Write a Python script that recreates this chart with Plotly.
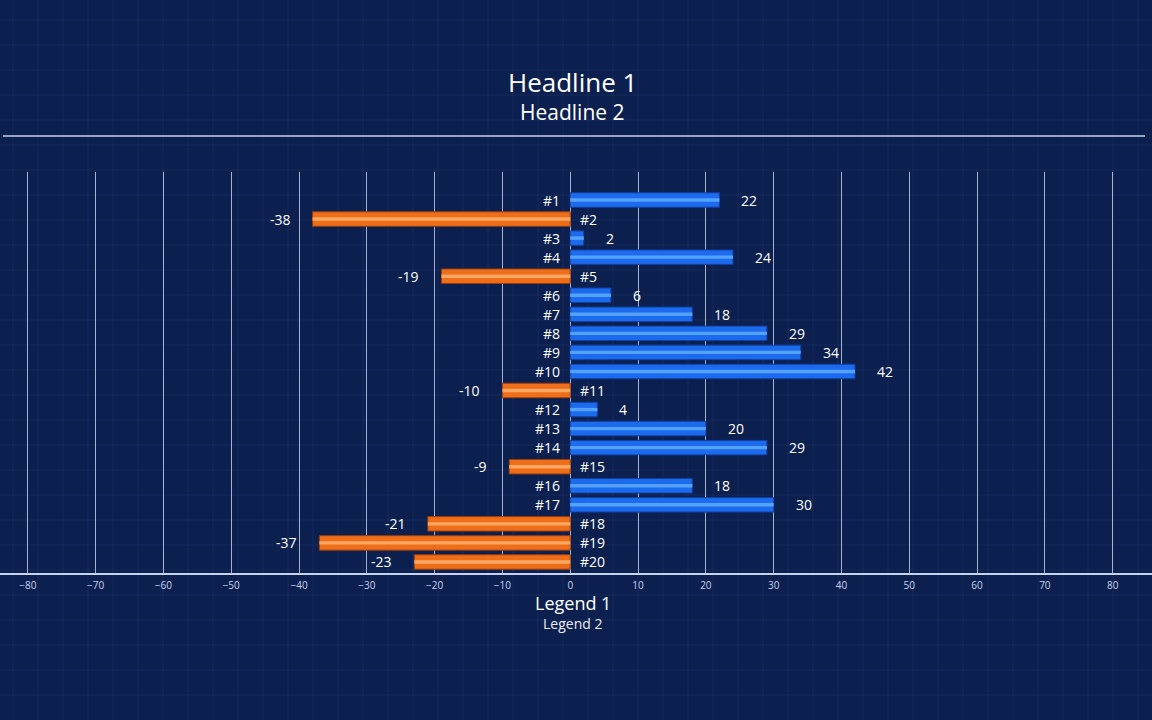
import plotly.graph_objects as go

categories = [f"#{i}" for i in range(1, 21)]
values = [22, -38, 2, 24, -19, 6, 18, 29, 34, 42, -10, 4, 20, 29, -9, 18, 30, -21, -37, -23]
tick_vals = list(range(-80, 90, 10))
title1 = "Headline 1"
title2 = "Headline 2"
legend1 = "Legend 1"
legend2 = "Legend 2"

BG = "#0c2050"
FONT = "Open Sans"
pos = list(range(1, len(categories) + 1))

main_colors = ["#1c6aee" if v >= 0 else "#ee6e1a" for v in values]
edge_colors = ["#123f9c" if v >= 0 else "#9a3c0c" for v in values]
hi_colors = ["#5aaaff" if v >= 0 else "#f9ad6a" for v in values]

fig = go.Figure()
fig.add_trace(go.Bar(
    x=values, y=pos, orientation="h", width=0.76,
    marker=dict(color=main_colors, line=dict(color=edge_colors, width=1)),
    hoverinfo="skip", showlegend=False))
fig.add_trace(go.Bar(
    x=values, y=pos, orientation="h", width=0.18,
    marker=dict(color=hi_colors, line=dict(width=0), opacity=0.9),
    hoverinfo="skip", showlegend=False))

annotations = []
for c, v, p in zip(categories, values, pos):
    if v >= 0:
        annotations.append(dict(x=0, y=p, text=c, xanchor="right", xshift=-8, showarrow=False,
                                font=dict(family=FONT, size=14, color="white")))
        annotations.append(dict(x=v, y=p, text=str(v), xanchor="left", xshift=20, showarrow=False,
                                font=dict(family=FONT, size=14, color="white")))
    else:
        annotations.append(dict(x=0, y=p, text=c, xanchor="left", xshift=8, showarrow=False,
                                font=dict(family=FONT, size=14, color="white")))
        annotations.append(dict(x=v, y=p, text=str(v), xanchor="right", xshift=-20, showarrow=False,
                                font=dict(family=FONT, size=14, color="white")))

annotations += [
    dict(xref="paper", yref="paper", x=0.497, y=1.2244, text=title1, showarrow=False,
         font=dict(family=FONT, size=26, color="white"), yanchor="middle"),
    dict(xref="paper", yref="paper", x=0.497, y=1.1496, text=title2, showarrow=False,
         font=dict(family=FONT, size=21, color="white"), yanchor="middle"),
    dict(xref="paper", yref="paper", x=0.497, y=-0.0748, text=legend1, showarrow=False,
         font=dict(family=FONT, size=18, color="white"), yanchor="middle"),
    dict(xref="paper", yref="paper", x=0.497, y=-0.127, text=legend2, showarrow=False,
         font=dict(family=FONT, size=14, color="#e8ecf8"), yanchor="middle"),
]

shapes = []
# faint blueprint background grid
step_x = 25 / 1152
step_y = 25 / 401
k = 0
while k * step_x < 1.0:
    xx = 13 / 1152 + k * step_x
    shapes.append(dict(type="line", xref="paper", yref="paper", x0=xx, x1=xx, y0=-147 / 401, y1=1 + 172 / 401,
                       line=dict(color="rgba(110,150,220,0.10)", width=1), layer="below"))
    k += 1
k = 0
while True:
    yy = 1 + 152 / 401 - k * step_y
    if yy < -147 / 401:
        break
    shapes.append(dict(type="line", xref="paper", yref="paper", x0=0, x1=1, y0=yy, y1=yy,
                       line=dict(color="rgba(110,150,220,0.10)", width=1), layer="below"))
    k += 1
# separator line under headline
shapes.append(dict(type="line", xref="paper", yref="paper", x0=3 / 1152, x1=1145 / 1152,
                   y0=1.0898, y1=1.0898, line=dict(color="#c8d2ea", width=1.5)))

fig.update_layout(
    width=1152, height=720,
    margin=dict(l=0, r=0, t=172, b=147),
    paper_bgcolor=BG, plot_bgcolor="rgba(0,0,0,0)",
    barmode="overlay",
    annotations=annotations, shapes=shapes,
    xaxis=dict(range=[-84.1, 85.8], tickvals=tick_vals, showgrid=True,
               gridcolor="rgba(215,225,250,0.75)", gridwidth=1, zeroline=False,
               showline=True, linecolor="#c8d2ea", linewidth=1.5,
               tickfont=dict(family=FONT, size=10, color="#c8d2ea"), ticks="", ticklabelstandoff=2),
    yaxis=dict(range=[20.58, -0.47], showgrid=False, zeroline=False, showticklabels=False,
               showline=False),
)

fig.write_html("out.html")
